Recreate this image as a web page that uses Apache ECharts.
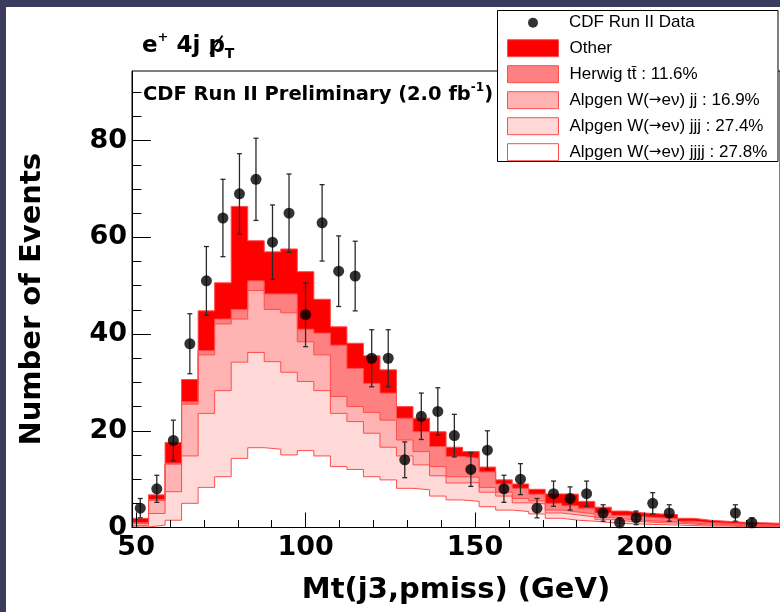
<!DOCTYPE html>
<html><head><meta charset="utf-8">
<script src="https://cdn.jsdelivr.net/npm/echarts@6.0.0/dist/echarts.min.js"></script>
<style>html,body{margin:0;padding:0;background:#fff;}#c{width:780px;height:612px;}</style>
</head><body><div id="c"></div>
<script>
// Histogram bin edges (GeV)
const binEdges = [48.78, 53.66, 58.54, 63.41, 68.29, 73.17, 78.05, 82.93, 87.80, 92.68, 97.56, 102.44, 107.32, 112.20, 117.07, 121.95, 126.83, 131.71, 136.59, 141.46, 146.34, 151.22, 156.10, 160.98, 165.85, 170.73, 175.61, 180.49, 185.37, 190.24, 195.12, 200.00, 204.88, 209.76, 214.63, 219.51, 224.39, 229.27, 234.15, 239.02, 243.90];
// Data (CDF Run II)
const dataCounts = [4, 8, 18, 38, 51, 64, 69, 72, 59, 65, 44, 63, 53, 52, 35, 35, 14, 23, 24, 19, 12, 16, 8, 10, 4, 7, 6, 7, 3, 1, 2, 5, 3, null, null, null, 3, 1];
const dataErrors = [2.0, 2.8, 4.2, 6.2, 7.1, 8.0, 8.3, 8.5, 7.7, 8.1, 6.6, 7.9, 7.3, 7.2, 5.9, 5.9, 3.7, 4.8, 4.9, 4.4, 3.5, 4.0, 2.8, 3.2, 2.0, 2.6, 2.4, 2.6, 1.7, 1.0, 1.4, 2.2, 1.7, null, null, null, 1.7, 1.0];
// Stacked expectations (cumulative tops, as drawn)
const stackOther = [1.9, 6.75, 17.6, 30.6, 44.8, 50.6, 66.4, 59.3, 57.0, 57.6, 52.9, 47.2, 41.5, 38.1, 35.5, 32.6, 25.0, 22.6, 19.8, 16.6, 15.7, 12.5, 9.85, 9.0, 7.9, 6.95, 6.9, 5.4, 4.2, 3.4, 3.0, 2.8, 2.7, 1.9, 1.5, 1.3, 1.1, 1.0, 0.9, 0.8];
const stackTT = [1.0, 5.8, 13.3, 26.0, 36.6, 43.1, 45.1, 51.0, 48.3, 48.3, 41.0, 40.2, 37.7, 32.9, 29.8, 27.8, 22.6, 19.8, 16.75, 14.7, 14.3, 11.5, 9.0, 8.1, 6.9, 5.0, 4.5, 4.0, 3.0, 2.5, 2.2, 2.0, 1.8, 1.3, 1.0, 0.9, 0.7, 0.6, 0.5, 0.5];
const stackJJ = [0.8, 5.6, 13.1, 25.5, 35.7, 42.1, 43.1, 49.0, 45.1, 44.4, 38.4, 35.7, 27.1, 25.0, 23.8, 22.2, 18.1, 15.7, 12.6, 10.5, 10.4, 8.3, 7.3, 6.0, 5.5, 3.6, 3.2, 2.8, 2.1, 1.7, 1.5, 1.3, 1.2, 0.9, 0.7, 0.6, 0.5, 0.4, 0.4, 0.35];
const stackJJJ = [0.4, 2.9, 7.4, 14.8, 23.6, 28.3, 34.2, 36.2, 34.3, 32.1, 30.2, 28.3, 23.6, 21.9, 19.5, 16.6, 14.8, 12.95, 10.7, 9.2, 9.3, 7.3, 6.5, 5.1, 4.9, 3.0, 2.6, 2.2, 1.7, 1.3, 1.2, 1.0, 0.9, 0.7, 0.5, 0.5, 0.4, 0.3, 0.3, 0.25];
const stackJJJJ = [0.1, 0.5, 1.5, 5.0, 8.3, 10.5, 14.3, 16.5, 16.2, 15.0, 15.9, 14.8, 12.6, 12.0, 10.5, 9.85, 8.1, 7.8, 6.5, 5.7, 5.4, 4.3, 3.6, 3.3, 2.8, 1.9, 1.5, 1.3, 1.0, 0.8, 0.7, 0.6, 0.5, 0.4, 0.3, 0.3, 0.2, 0.2, 0.2, 0.15];
const seriesNames = ['Other', 'Herwig t\u0074\u0304 : 11.6%', 'Alpgen W(\u2192e\u03bd) jj : 16.9%', 'Alpgen W(\u2192e\u03bd) jjj : 27.4%', 'Alpgen W(\u2192e\u03bd) jjjj : 27.8%'];
const dataName = 'CDF Run II Data';
const xTicksMinor = [50, 60, 70, 80, 90, 100, 110, 120, 130, 140, 150, 160, 170, 180, 190, 200, 210, 220, 230];
const xTicksMajor = [50, 100, 150, 200];
const yTicksMinor = [0, 5, 10, 15, 20, 25, 30, 35, 40, 45, 50, 55, 60, 65, 70, 75, 80, 85, 90];
const yTicksMajor = [0, 20, 40, 60, 80];

const fills = ['#ff0000', '#ff8080', '#ffb3b3', '#ffd8d8', '#ffffff'];
const edgeColor = '#ff4d4d';
const stacks = [stackOther, stackTT, stackJJ, stackJJJ, stackJJJJ];
const boldFont = 'DejaVu Sans';

function stepData(cum) {
  const pts = cum.map((v, i) => [binEdges[i], v]);
  pts.push([binEdges[cum.length], cum[cum.length - 1]]);
  return pts;
}
const histSeries = stacks.map((cum, k) => ({
  type: 'line', name: seriesNames[k], data: stepData(cum), step: 'end',
  symbol: 'none', silent: true, z: 2,
  lineStyle: { color: edgeColor, width: 1 },
  itemStyle: { color: fills[k] },
  areaStyle: { color: fills[k], opacity: 1, origin: 'start' }
}));
const pts = [];
dataCounts.forEach((v, i) => {
  if (v !== null) pts.push([(binEdges[i] + binEdges[i + 1]) / 2, v, dataErrors[i]]);
});

const chart = echarts.init(document.getElementById('c'), null, { renderer: 'canvas' });
const axisTxt = { fontFamily: boldFont, fontWeight: 'bold', fontSize: 27, color: '#000' };
const legendTxt = { fontFamily: 'Liberation Sans', fontSize: 17, color: '#000',
  rich: { a: { fontFamily: 'DejaVu Sans', fontSize: 15, color: '#000' } } };
const legendFmt = n => n.replace('\u2192', '{a|\u2192}');
chart.setOption({
  animation: false,
  backgroundColor: '#ffffff',
  grid: { left: 132, top: 71, width: 652.6, height: 456.5, show: true, borderColor: '#000', borderWidth: 1, backgroundColor: '#fff' },
  xAxis: [
    { type: 'value', min: 48.78, max: 240, position: 'bottom', z: 5,
      axisLine: { show: true, lineStyle: { color: '#000', width: 1 } },
      axisTick: { show: true, inside: true, length: 15, customValues: xTicksMajor, lineStyle: { color: '#000' } },
      axisLabel: { show: true, customValues: xTicksMajor, margin: 7, ...axisTxt },
      splitLine: { show: false },
      name: 'Mt(j3,pmiss) (GeV)', nameLocation: 'middle', nameGap: 48,
      nameTextStyle: { fontFamily: boldFont, fontWeight: 'bold', fontSize: 29, color: '#000' } },
    { type: 'value', min: 48.78, max: 240, position: 'bottom', z: 5,
      axisLine: { show: false },
      axisTick: { show: true, inside: true, length: 7.5, customValues: xTicksMinor, lineStyle: { color: '#000' } },
      axisLabel: { show: false }, splitLine: { show: false } }
  ],
  yAxis: [
    { type: 'value', min: 0, max: 94.4, position: 'left', z: 5,
      axisLine: { show: true, lineStyle: { color: '#000', width: 1 } },
      axisTick: { show: true, inside: true, length: 19, customValues: yTicksMajor, lineStyle: { color: '#000' } },
      axisLabel: { show: true, customValues: yTicksMajor, margin: 5, ...axisTxt },
      splitLine: { show: false },
      name: 'Number of Events', nameLocation: 'middle', nameGap: 85, nameRotate: 90,
      nameTextStyle: { fontFamily: boldFont, fontWeight: 'bold', fontSize: 29, color: '#000' } },
    { type: 'value', min: 0, max: 94.4, position: 'left', z: 5,
      axisLine: { show: false },
      axisTick: { show: true, inside: true, length: 9.5, customValues: yTicksMinor, lineStyle: { color: '#000' } },
      axisLabel: { show: false }, splitLine: { show: false } }
  ],
  legend: [
    { orient: 'vertical', left: 528, top: 14.2, padding: 0, itemWidth: 10, itemHeight: 10, itemGap: 0, selectedMode: false, z: 6,
      data: [{ name: dataName, icon: 'circle', itemStyle: { color: '#000', borderWidth: 0 } }],
      textStyle: { ...legendTxt, padding: [0, 0, 0, 26] } },
    { orient: 'vertical', left: 507, top: 39.2, padding: 0, itemWidth: 51, itemHeight: 17, itemGap: 8, selectedMode: false, z: 6,
      formatter: legendFmt,
      data: seriesNames.map((n, k) => ({ name: n, icon: 'rect', itemStyle: { color: fills[k], borderColor: edgeColor, borderWidth: 1 } })),
      textStyle: { ...legendTxt, padding: [0, 0, 0, 6] } }
  ],
  graphic: [
    { type: 'rect', shape: { x: 0, y: 0, width: 6, height: 612 }, style: { fill: '#3b3b5d' }, z: 1 },
    { type: 'rect', shape: { x: 0, y: 0, width: 780, height: 7 }, style: { fill: '#3b3b5d' }, z: 1 },
    { type: 'rect', shape: { x: 497.5, y: 10.5, width: 280.5, height: 151 }, style: { fill: '#fff', stroke: '#000', lineWidth: 1 }, z: 3 },
    { type: 'text', x: 142, y: 31, z: 5,
      style: { text: '{m|e}{sup|+}{m| 4j p}{sub|T}', verticalAlign: 'top',
        rich: {
          m: { fontFamily: boldFont, fontWeight: 'bold', fontSize: 23, lineHeight: 30, verticalAlign: 'middle', fill: '#000' },
          sup: { fontFamily: boldFont, fontWeight: 'bold', fontSize: 13, lineHeight: 14, verticalAlign: 'top', fill: '#000' },
          sub: { fontFamily: boldFont, fontWeight: 'bold', fontSize: 14, lineHeight: 10, verticalAlign: 'bottom', fill: '#000' }
        } } },
    { type: 'line', z: 5, shape: { x1: 210, y1: 54, x2: 222.5, y2: 35.5 }, style: { stroke: '#000', lineWidth: 1.6 } },
    { type: 'text', x: 143, y: 82, z: 5,
      style: { text: '{m|CDF Run II Preliminary (2.0 fb}{sup|-1}{m|)}', verticalAlign: 'top',
        rich: {
          m: { fontFamily: boldFont, fontWeight: 'bold', fontSize: 19.5, lineHeight: 26, verticalAlign: 'middle', fill: '#000' },
          sup: { fontFamily: boldFont, fontWeight: 'bold', fontSize: 12, lineHeight: 12, verticalAlign: 'top', fill: '#000' }
        } } }
  ],
  series: histSeries.concat([
    { type: 'custom', name: 'errors', silent: true, z: 3, data: pts,
      renderItem: function (params, api) {
        const x = api.value(0), y = api.value(1), e = api.value(2);
        const t = api.coord([x, y + e]), b = api.coord([x, y - e]);
        const st = { stroke: '#2a2a2a', lineWidth: 1.3 };
        return { type: 'group', children: [
          { type: 'line', shape: { x1: t[0], y1: t[1], x2: b[0], y2: b[1] }, style: st },
          { type: 'line', shape: { x1: t[0] - 2.5, y1: t[1], x2: t[0] + 2.5, y2: t[1] }, style: st },
          { type: 'line', shape: { x1: b[0] - 2.5, y1: b[1], x2: b[0] + 2.5, y2: b[1] }, style: st }
        ] };
      } },
    { type: 'scatter', name: dataName, data: pts.map(p => [p[0], p[1]]), symbol: 'circle', symbolSize: 11,
      itemStyle: { color: '#000' }, z: 4, silent: true }
  ])
});
</script></body></html>
